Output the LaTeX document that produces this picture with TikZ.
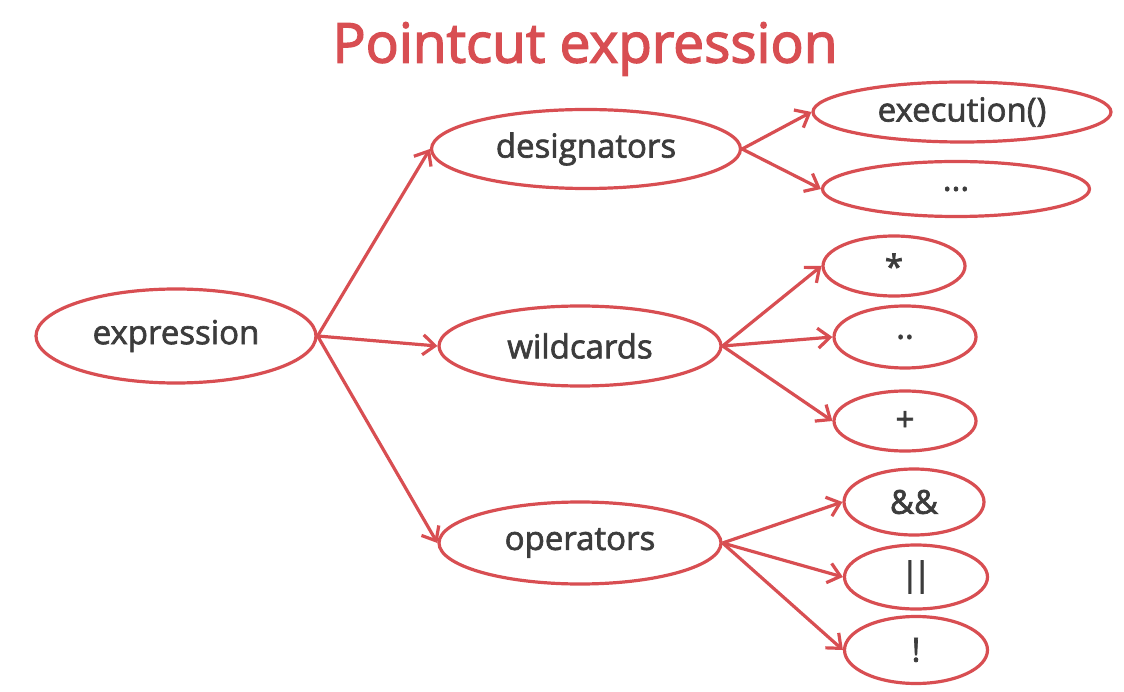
\documentclass[tikz,border=0pt]{standalone}
\usepackage{fontspec}
\setmainfont{Open Sans}
\newfontfamily\pcfont{Open Sans}[FakeBold=2]
\newfontfamily\pctitlefont{Open Sans}[FakeBold=2.5]
\usepackage{tikz}
\usetikzlibrary{shapes.geometric, arrows.meta}
\definecolor{pcred}{RGB}{216,78,82}
\definecolor{pctext}{RGB}{60,60,60}
\tikzstyle{bubble} = [ellipse, draw=pcred, line width=3.2pt, fill=white, inner sep=0pt, text=pctext, font=\pcfont\fontsize{33}{40}\selectfont]
\tikzstyle{arrow} = [line width=3.2pt, draw=pcred, -{Straight Barb[length=12pt,width=20pt,line width=3.2pt]}]

\begin{document}
\begin{tikzpicture}[x=1pt, y=-1pt]
            \useasboundingbox (0,0) rectangle (1124,692);
            \node (titel) [text=pcred, font=\pctitlefont\fontsize{55}{64}\selectfont] at (585,49) {Pointcut expression};

            \node (expression) [bubble, minimum width=280, minimum height=94] at (176,336) {expression};
            \node (designators) [bubble, minimum width=309, minimum height=79] at (586,149) {designators};
            \node (wildcards) [bubble, minimum width=282, minimum height=80] at (580,346) {wildcards};
            \node (operators) [bubble, minimum width=282, minimum height=82] at (580,543) {operators};

            \node (execution) [bubble, minimum width=298, minimum height=60] at (962,112) {execution()};
            \node (overig) [bubble, minimum width=267, minimum height=55] at (956,189) {...};

            \node (ster) [bubble, minimum width=142, minimum height=60] at (894,266) {*};
            \node (punten) [bubble, minimum width=142, minimum height=62] at (905,337) {..};
            \node (plus) [bubble, minimum width=142, minimum height=60] at (905,421) {+};

            \node (en) [bubble, minimum width=140, minimum height=66] at (914,502) {\&\&};
            \node (of) [bubble, minimum width=143, minimum height=64] at (916,577) {|\kern-6pt|};
            \node (niet) [bubble, minimum width=143, minimum height=67] at (916,650) {!};

            \draw [arrow] (expression.east) -- (designators.west);
            \draw [arrow] (expression.east) -- (wildcards.west);
            \draw [arrow] (expression.east) -- (operators.west);
            \draw [arrow] (designators.east) -- (execution.west);
            \draw [arrow] (designators.east) -- (overig.west);
            \draw [arrow] (wildcards.east) -- (ster.west);
            \draw [arrow] (wildcards.east) -- (punten.west);
            \draw [arrow] (wildcards.east) -- (plus.west);
            \draw [arrow] (operators.east) -- (en.west);
            \draw [arrow] (operators.east) -- (of.west);
            \draw [arrow] (operators.east) -- (niet.west);
        \end{tikzpicture}
\end{document}
